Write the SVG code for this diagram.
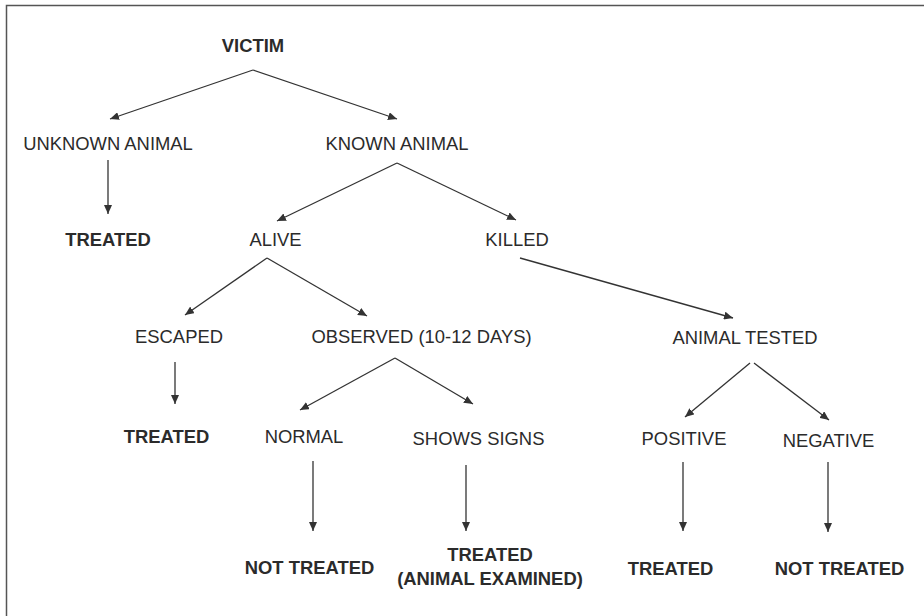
<svg xmlns="http://www.w3.org/2000/svg" width="924" height="616" viewBox="0 0 924 616">
<style>
text{font-family:"Liberation Sans",Arial,sans-serif;font-size:18.4px;fill:#2b2b2b;text-anchor:middle}
.b{font-weight:bold}
.c line{stroke:#333;stroke-width:1.3;marker-end:url(#ah)}
</style>
<defs>
<marker id="ah" markerUnits="userSpaceOnUse" markerWidth="10" markerHeight="8" refX="9" refY="4" orient="auto">
<path d="M0,0 L9,4 L0,8 Z" fill="#333"/>
</marker>
</defs>
<rect width="924" height="616" fill="#fff"/>
<path d="M6.5,616 V5.5 H924" fill="none" stroke="#555" stroke-width="1.5"/>
<g class="c" id="connectors">
<line x1="253" y1="70" x2="110" y2="119"/>
<line x1="253" y1="70" x2="397" y2="119"/>
<line x1="108" y1="160" x2="108" y2="214"/>
<line x1="397" y1="163" x2="277" y2="221"/>
<line x1="397" y1="163" x2="516" y2="220"/>
<line x1="267" y1="258" x2="185" y2="315"/>
<line x1="267" y1="258" x2="367" y2="316"/>
<line x1="520" y1="258" x2="733" y2="318"/>
<line x1="175" y1="362" x2="175" y2="404"/>
<line x1="395" y1="358" x2="300" y2="410"/>
<line x1="395" y1="358" x2="473" y2="404"/>
<line x1="750" y1="363" x2="685" y2="417"/>
<line x1="754" y1="363" x2="829" y2="420"/>
<line x1="313" y1="461" x2="313" y2="531"/>
<line x1="466" y1="465" x2="466" y2="531"/>
<line x1="683" y1="462" x2="683" y2="531"/>
<line x1="828" y1="462" x2="828" y2="532"/>
</g>
<g id="victim"><text class="b" x="253" y="52">VICTIM</text></g>
<g id="unknown"><text x="108" y="150">UNKNOWN ANIMAL</text></g>
<g id="known"><text x="397" y="150">KNOWN ANIMAL</text></g>
<g id="treated1"><text class="b" x="108" y="246">TREATED</text></g>
<g id="alive"><text x="275.5" y="246">ALIVE</text></g>
<g id="killed"><text x="517" y="246">KILLED</text></g>
<g id="escaped"><text x="179" y="343">ESCAPED</text></g>
<g id="observed"><text x="421.5" y="343">OBSERVED (10-12 DAYS)</text></g>
<g id="tested"><text x="745" y="344">ANIMAL TESTED</text></g>
<g id="treated2"><text class="b" x="166.5" y="443">TREATED</text></g>
<g id="normal"><text x="304" y="443">NORMAL</text></g>
<g id="signs"><text x="478.5" y="445">SHOWS SIGNS</text></g>
<g id="positive"><text x="684" y="445">POSITIVE</text></g>
<g id="negative"><text x="828.5" y="447">NEGATIVE</text></g>
<g id="nottreated1"><text class="b" x="309.5" y="574">NOT TREATED</text></g>
<g id="treated3"><text class="b" x="490" y="561">TREATED</text><text class="b" x="490" y="585">(ANIMAL EXAMINED)</text></g>
<g id="treated4"><text class="b" x="670.5" y="575">TREATED</text></g>
<g id="nottreated2"><text class="b" x="839.5" y="575">NOT TREATED</text></g>
</svg>
